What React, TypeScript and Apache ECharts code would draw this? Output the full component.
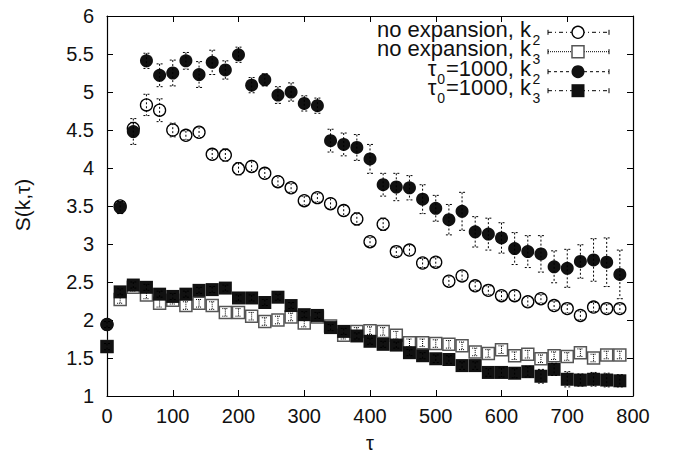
import React, { useEffect, useRef } from "react";
import * as echarts from "echarts";

const tau = [0, 20, 40, 60, 80, 100, 120, 140, 160, 180, 200, 220, 240, 260, 280, 300, 320, 340, 360, 380, 400, 420, 440, 460, 480, 500, 520, 540, 560, 580, 600, 620, 640, 660, 680, 700, 720, 740, 760, 780];

const noExpK2 = [1.94, 3.50, 4.52, 4.83, 4.76, 4.50, 4.43, 4.47, 4.18, 4.17, 3.99, 4.02, 3.93, 3.82, 3.74, 3.57, 3.61, 3.53, 3.44, 3.33, 3.03, 3.26, 2.90, 2.92, 2.75, 2.76, 2.51, 2.58, 2.45, 2.39, 2.32, 2.32, 2.24, 2.28, 2.19, 2.15, 2.06, 2.17, 2.15, 2.15];
const noExpK2Err = [0.04, 0.05, 0.08, 0.14, 0.15, 0.09, 0.06, 0.07, 0.07, 0.08, 0.08, 0.07, 0.07, 0.07, 0.06, 0.06, 0.06, 0.07, 0.07, 0.08, 0.06, 0.08, 0.06, 0.07, 0.06, 0.06, 0.07, 0.07, 0.06, 0.06, 0.06, 0.07, 0.07, 0.06, 0.06, 0.06, 0.06, 0.06, 0.06, 0.06];

const noExpK3 = [1.65, 2.27, 2.43, 2.33, 2.22, 2.26, 2.19, 2.22, 2.19, 2.10, 2.10, 2.05, 1.98, 2.00, 2.04, 1.96, 2.04, 1.92, 1.80, 1.85, 1.86, 1.85, 1.80, 1.70, 1.70, 1.69, 1.68, 1.66, 1.58, 1.56, 1.61, 1.53, 1.55, 1.49, 1.53, 1.52, 1.57, 1.50, 1.54, 1.54];
const noExpK3Err = [0.04, 0.05, 0.05, 0.05, 0.05, 0.05, 0.05, 0.05, 0.05, 0.05, 0.05, 0.05, 0.05, 0.05, 0.05, 0.05, 0.05, 0.05, 0.05, 0.05, 0.05, 0.05, 0.05, 0.05, 0.05, 0.05, 0.05, 0.05, 0.05, 0.05, 0.05, 0.05, 0.05, 0.05, 0.05, 0.05, 0.05, 0.05, 0.05, 0.05];

const tau0K2 = [1.94, 3.48, 4.48, 5.41, 5.22, 5.25, 5.41, 5.23, 5.39, 5.29, 5.49, 5.09, 5.16, 4.96, 5.00, 4.85, 4.82, 4.36, 4.31, 4.27, 4.12, 3.78, 3.75, 3.74, 3.59, 3.47, 3.32, 3.43, 3.16, 3.13, 3.08, 2.94, 2.90, 2.87, 2.70, 2.68, 2.77, 2.79, 2.76, 2.60];
const tau0K2Err = [0.04, 0.08, 0.17, 0.10, 0.15, 0.17, 0.11, 0.17, 0.16, 0.12, 0.10, 0.10, 0.08, 0.11, 0.12, 0.10, 0.10, 0.15, 0.15, 0.17, 0.19, 0.15, 0.18, 0.16, 0.19, 0.17, 0.20, 0.25, 0.20, 0.21, 0.20, 0.21, 0.21, 0.24, 0.21, 0.25, 0.22, 0.28, 0.32, 0.32];

const tau0K3 = [1.65, 2.37, 2.46, 2.43, 2.34, 2.31, 2.34, 2.39, 2.40, 2.42, 2.29, 2.29, 2.23, 2.30, 2.19, 2.07, 2.06, 1.90, 1.85, 1.79, 1.72, 1.68, 1.67, 1.57, 1.53, 1.49, 1.48, 1.40, 1.40, 1.31, 1.31, 1.30, 1.32, 1.26, 1.35, 1.22, 1.21, 1.22, 1.21, 1.20];
const tau0K3Err = [0.04, 0.04, 0.04, 0.04, 0.04, 0.04, 0.04, 0.04, 0.04, 0.04, 0.04, 0.04, 0.04, 0.04, 0.04, 0.04, 0.04, 0.04, 0.04, 0.04, 0.04, 0.04, 0.04, 0.04, 0.04, 0.05, 0.05, 0.05, 0.05, 0.05, 0.06, 0.06, 0.07, 0.09, 0.08, 0.10, 0.08, 0.09, 0.09, 0.08];

const legendMain = ["no expansion, k", "no expansion, k", "=1000, k", "=1000, k"];
const legendSub = ["2", "3", "2", "3"];
const legendPrefix = ["", "", "τ", "τ"];
const legendPrefixSub = ["", "", "0", "0"];

const FONT = "Liberation Sans, Arial, Helvetica, sans-serif";

function rows(vals: number[], errs: number[]) {
  return tau.map((t, i) => [t, vals[i], errs[i]]);
}

function errSeries(data: number[][], dash: number[] | null, z: number) {
  return {
    type: "custom",
    z,
    silent: true,
    data,
    encode: { x: 0, y: 1 },
    renderItem: (_p: any, api: any) => {
      const x = api.value(0);
      const y = api.value(1);
      const e = api.value(2);
      const top = api.coord([x, y + e]);
      const bot = api.coord([x, y - e]);
      const w = 3;
      const style: any = { stroke: "#000", lineWidth: 1, lineDash: dash || undefined };
      return {
        type: "group",
        children: [
          { type: "line", shape: { x1: top[0], y1: top[1], x2: bot[0], y2: bot[1] }, style },
          { type: "line", shape: { x1: top[0] - w, y1: top[1], x2: top[0] + w, y2: top[1] }, style },
          { type: "line", shape: { x1: bot[0] - w, y1: bot[1], x2: bot[0] + w, y2: bot[1] }, style },
        ],
      };
    },
  };
}

export default function App() {
  const ref = useRef<HTMLDivElement>(null);
  useEffect(() => {
    if (!ref.current) return;
    const chart = echarts.init(ref.current, null, { renderer: "svg" });

    const axisCommon = {
      type: "value",
      axisLine: { show: true, onZero: false, lineStyle: { color: "#000", width: 1.2 } },
      axisTick: { show: true, inside: true, length: 6, lineStyle: { color: "#000", width: 1 } },
      splitLine: { show: false },
    };

    const legendRowsY = [32.3, 51.7, 71.7, 90.7];
    const dashes = [[4, 3, 1, 3], [1, 1], [3, 3], [4, 3, 1, 3]];
    const kRight = 531;
    const mainSize = 22;
    const subSize = 14;
    const graphics: any[] = [];
    legendRowsY.forEach((ry, i) => {
      graphics.push({
        type: "text",
        x: kRight,
        y: ry - 3.1,
        style: { text: legendMain[i], fontSize: mainSize, lineHeight: 16, fontFamily: FONT, fill: "#111", align: "right", verticalAlign: "middle" },
      });
      graphics.push({
        type: "text",
        x: kRight + 1.5,
        y: ry + 7.7,
        style: { text: legendSub[i], fontSize: subSize, lineHeight: 10, fontFamily: FONT, fill: "#111", align: "left", verticalAlign: "middle" },
      });
      if (legendPrefix[i]) {
        const eqLeft = 445;
        graphics.push({
          type: "text",
          x: eqLeft,
          y: ry + 7.7,
          style: { text: legendPrefixSub[i], fontSize: subSize, lineHeight: 10, fontFamily: FONT, fill: "#111", align: "right", verticalAlign: "middle" },
        });
        graphics.push({
          type: "text",
          x: eqLeft - 8.5,
          y: ry - 3.1,
          style: { text: legendPrefix[i], fontSize: mainSize, lineHeight: 16, fontFamily: FONT, fill: "#111", align: "right", verticalAlign: "middle" },
        });
      }
      graphics.push({
        type: "line",
        shape: { x1: 548, y1: ry, x2: 609, y2: ry },
        style: { stroke: "#000", lineWidth: 1, lineDash: dashes[i] },
      });
      graphics.push({ type: "line", shape: { x1: 548, y1: ry - 2.5, x2: 548, y2: ry + 2.5 }, style: { stroke: "#000", lineWidth: 1 } });
      graphics.push({ type: "line", shape: { x1: 609, y1: ry - 2.5, x2: 609, y2: ry + 2.5 }, style: { stroke: "#000", lineWidth: 1 } });
      if (i === 0) graphics.push({ type: "circle", shape: { cx: 578, cy: ry, r: 6 }, style: { fill: "#fff", stroke: "#000", lineWidth: 1.3 } });
      if (i === 1) graphics.push({ type: "rect", shape: { x: 572, y: ry - 6, width: 12, height: 12 }, style: { fill: "#fff", stroke: "#555", lineWidth: 1.5 } });
      if (i === 2) graphics.push({ type: "circle", shape: { cx: 578, cy: ry, r: 6.5 }, style: { fill: "#111" } });
      if (i === 3) graphics.push({ type: "rect", shape: { x: 571.5, y: ry - 6.5, width: 13, height: 13 }, style: { fill: "#111" } });
    });
    graphics.push({
      type: "text",
      x: 22,
      y: 205,
      rotation: Math.PI / 2,
      style: { text: "S(k,τ)", fontSize: 21, fontFamily: FONT, fill: "#111", align: "center", verticalAlign: "middle" },
    });
    graphics.push({
      type: "text",
      x: 370,
      y: 443,
      style: { text: "τ", fontSize: 20, fontFamily: FONT, fill: "#111", align: "center", verticalAlign: "middle" },
    });

    chart.setOption({
      animation: false,
      backgroundColor: "#fff",
      grid: { left: 107, right: 42, top: 16, bottom: 57, containLabel: false },
      xAxis: [
        {
          ...axisCommon,
          min: 0,
          max: 800,
          interval: 100,
          position: "bottom",
          axisLabel: { fontSize: 20, fontFamily: FONT, color: "#111", margin: 10 },
        },
        {
          ...axisCommon,
          min: 0,
          max: 800,
          interval: 100,
          position: "top",
          axisLabel: { show: false },
        },
      ],
      yAxis: [
        {
          ...axisCommon,
          min: 1,
          max: 6,
          interval: 0.5,
          position: "left",
          axisLabel: { fontSize: 20, fontFamily: FONT, color: "#111", margin: 13 },
        },
        {
          ...axisCommon,
          min: 1,
          max: 6,
          interval: 0.5,
          position: "right",
          axisLabel: { show: false },
        },
      ],
      series: [
        {
          type: "scatter",
          z: 1,
          data: rows(noExpK2, noExpK2Err),
          symbol: "circle",
          symbolSize: 12,
          itemStyle: { color: "#fff", borderColor: "#000", borderWidth: 1.3, opacity: 1 },
        },
        errSeries(rows(noExpK2, noExpK2Err), [2, 2], 2),
        {
          type: "scatter",
          z: 3,
          data: rows(noExpK3, noExpK3Err),
          symbol: "rect",
          symbolSize: 12,
          itemStyle: { color: "#fff", borderColor: "#555", borderWidth: 1.5, opacity: 1 },
        },
        errSeries(rows(noExpK3, noExpK3Err), [1, 1], 4),
        {
          type: "scatter",
          z: 5,
          data: rows(tau0K2, tau0K2Err),
          symbol: "circle",
          symbolSize: 13,
          itemStyle: { color: "#111", opacity: 1 },
        },
        errSeries(rows(tau0K2, tau0K2Err), [2, 2], 6),
        {
          type: "scatter",
          z: 7,
          data: rows(tau0K3, tau0K3Err),
          symbol: "rect",
          symbolSize: 13,
          itemStyle: { color: "#111", opacity: 1 },
        },
        errSeries(rows(tau0K3, tau0K3Err), [2, 2], 8),
      ],
      graphic: graphics,
    });
    return () => chart.dispose();
  }, []);
  return <div ref={ref} style={{ position: "absolute", left: 0, top: 0, width: 675, height: 453, background: "#fff" }} />;
}
